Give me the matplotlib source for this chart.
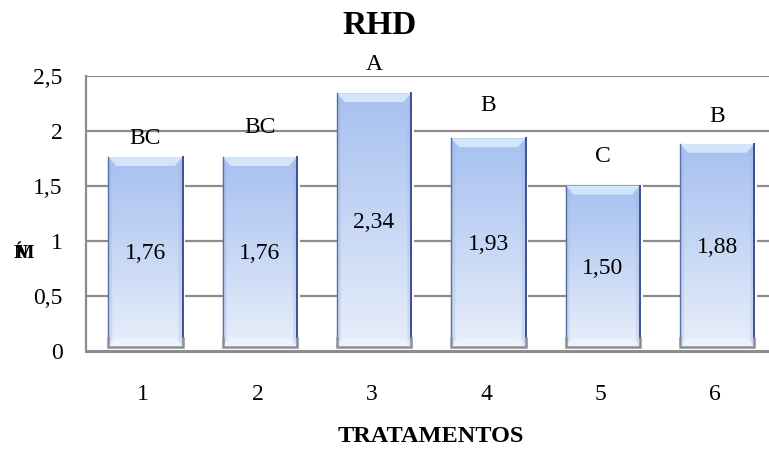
import matplotlib
matplotlib.use("Agg")
import numpy as np
import matplotlib.pyplot as plt
from matplotlib.patches import Polygon, Rectangle
from matplotlib.colors import LinearSegmentedColormap

tratamentos = ["1", "2", "3", "4", "5", "6"]
valores = [1.76, 1.76, 2.34, 1.93, 1.50, 1.88]
letras = ["BC", "BC", "A", "B", "C", "B"]
letra_offset = [0.17, 0.27, 0.26, 0.30, 0.27, 0.25]
yticks = [0, 0.5, 1, 1.5, 2, 2.5]
ytick_labels = ["0", "0,5", "1", "1,5", "2", "2,5"]

plt.rcParams["font.family"] = "serif"
plt.rcParams["font.serif"] = ["Liberation Serif", "Times New Roman", "DejaVu Serif"]

W, H = 769, 449
fig = plt.figure(figsize=(W / 100, H / 100), dpi=100)
ax = fig.add_axes([86 / W, 1 - 350.7 / H, (772 - 86) / W, 275 / H])
ax.set_xlim(-0.5, 5.5)
ax.set_ylim(0, 2.5)

# grid drawn behind the bars
for t in yticks[1:]:
    ax.axhline(t, color="#8c8c8c", lw=1.6, zorder=0)

for s in ["top", "right"]:
    ax.spines[s].set_visible(False)
ax.spines["left"].set_color("#8c8c8c")
ax.spines["left"].set_linewidth(1.6)
ax.spines["bottom"].set_color("#8c8c8c")
ax.spines["bottom"].set_linewidth(2.2)

ax.set_yticks(yticks)
ax.set_yticklabels(ytick_labels, fontsize=17)
ax.set_xticks(range(len(tratamentos)))
ax.set_xticklabels(tratamentos, fontsize=17)
ax.tick_params(axis="y", length=0, pad=17)
ax.tick_params(axis="x", length=0, pad=24)

cmap = LinearSegmentedColormap.from_list("barra", ["#e8eefa", "#c6d7f5", "#a6c0f0"])
grad = np.linspace(0, 1, 256).reshape(-1, 1)

bw = 0.65
dx, dy = 0.07, 0.08
for i, v in enumerate(valores):
    x0, x1 = i - bw / 2 + 0.02, i + bw / 2 + 0.02
    # small white gap on the right side of each bar
    ax.add_patch(Rectangle((x1, 0.01), 0.025, v, facecolor="white",
                           edgecolor="none", zorder=1))
    rect = Rectangle((x0, 0.03), bw, v - 0.03, facecolor="none", edgecolor="none", zorder=2)
    ax.add_patch(rect)
    im = ax.imshow(grad, cmap=cmap, extent=(x0, x1, 0.03, v), origin="lower",
                   aspect="auto", zorder=2)
    im.set_clip_path(rect)
    # bevels
    ax.add_patch(Polygon([(x0, v), (x1, v), (x1 - dx, v - dy), (x0 + dx, v - dy)],
                         facecolor="#dcecfc", edgecolor="none", alpha=0.85, zorder=3))
    ax.add_patch(Polygon([(x0, 0.03), (x1, 0.03), (x1 - dx, 0.03 + dy), (x0 + dx, 0.03 + dy)],
                         facecolor="#eef2fa", edgecolor="none", zorder=3))
    ax.add_patch(Polygon([(x0, 0.03), (x0, v), (x0 + 0.035, v - dy), (x0 + 0.035, 0.03 + dy)],
                         facecolor="#9db4e4", edgecolor="none", alpha=0.3, zorder=3))
    ax.add_patch(Polygon([(x1, 0.03), (x1, v), (x1 - 0.035, v - dy), (x1 - 0.035, 0.03 + dy)],
                         facecolor="#9db4e4", edgecolor="none", alpha=0.3, zorder=3))
    ax.plot([x0, x0], [0.12, v], color="#56709f", lw=1.0, zorder=4)
    ax.plot([x1, x1], [0.12, v], color="#3f4f8f", lw=1.4, zorder=4)
    ax.plot([x0, x0, x1, x1], [0.12, 0.03, 0.03, 0.12], color="#8d8d96", lw=1.8,
            zorder=4, solid_joinstyle="miter")

    ax.text(i + 0.02, v / 2, f"{v:.2f}".replace(".", ","), ha="center", va="center",
            fontsize=17, zorder=5)
    ax.text(i + 0.02, v + letra_offset[i], letras[i], ha="center", va="center",
            fontsize=17, clip_on=False, zorder=5)

fig.text(380 / W, 1 - 25 / H, "RHD", ha="center", va="center", fontsize=24,
         fontweight="bold")
fig.text(431 / W, 1 - 437 / H, "TRATAMENTOS", ha="center", va="center", fontsize=17.5,
         fontweight="bold")

# overlapping glyphs of the vertical axis title
for ch, xp in [("Í", 18.5), ("N", 20.5), ("M", 24.5)]:
    fig.text(xp / W, 1 - 258 / H, ch, ha="center", va="baseline", fontsize=14,
             fontweight="bold")

fig.savefig("out.png", dpi=100)
